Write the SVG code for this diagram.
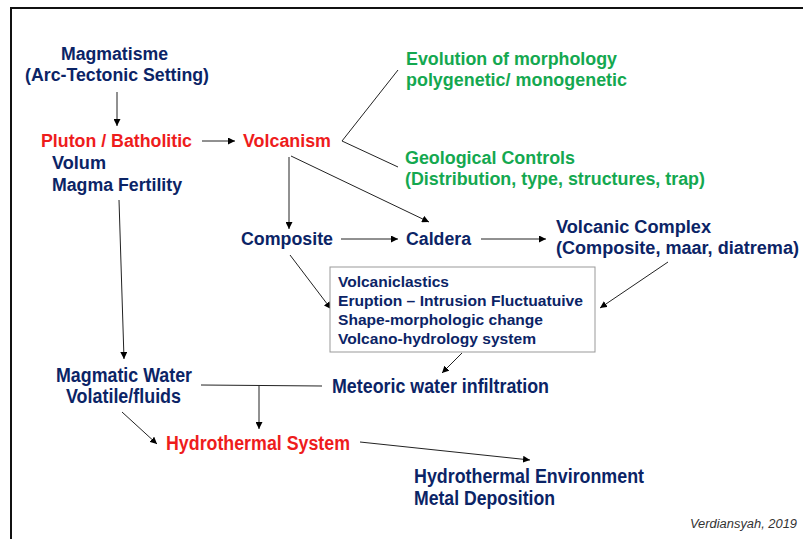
<svg xmlns="http://www.w3.org/2000/svg" width="803" height="539" viewBox="0 0 803 539">
<defs>
<marker id="ah" viewBox="0 0 10 10" refX="10" refY="5" markerWidth="7" markerHeight="7" markerUnits="userSpaceOnUse" orient="auto">
<path d="M0,0 L10,5 L0,10 z" fill="#000"/>
</marker>
<style>
text{font-family:"Liberation Sans",Arial,sans-serif;font-weight:bold;}
.n{fill:#0b2466;font-size:18px;}
.r{fill:#ee1c1c;font-size:18px;}
.g{fill:#14a850;font-size:18px;}
.b{fill:#0b2466;font-size:15.5px;}
.w{fill:#0b2466;font-size:20px;}
.wr{fill:#ee1c1c;font-size:20px;}
.c line,.c polyline{stroke:#222;stroke-width:1;fill:none;}
.a{marker-end:url(#ah);}
</style>
</defs>
<rect x="0" y="0" width="803" height="539" fill="#fff"/>
<path d="M11,545 L11,8 L810,8" fill="none" stroke="#111" stroke-width="2"/>

<g class="c" id="connectors">
<line class="a" x1="117" y1="92" x2="117" y2="126"/>
<line class="a" x1="202" y1="141" x2="235" y2="141"/>
<polyline points="398,70 342,141 398,167"/>
<line class="a" x1="289" y1="157" x2="289" y2="229"/>
<line class="a" x1="291" y1="156" x2="429" y2="222"/>
<line class="a" x1="341" y1="239" x2="398" y2="239"/>
<line class="a" x1="481" y1="239" x2="546" y2="239"/>
<line class="a" x1="290" y1="255" x2="331" y2="309"/>
<line class="a" x1="668" y1="262" x2="600" y2="308"/>
<line class="a" x1="462" y1="353" x2="442" y2="373"/>
<line class="a" x1="119" y1="200" x2="124" y2="359"/>
<line x1="201" y1="385" x2="322" y2="386"/>
<line class="a" x1="259" y1="386" x2="259" y2="429"/>
<line class="a" x1="122" y1="412" x2="157" y2="444"/>
<line class="a" x1="360" y1="442" x2="530" y2="460"/>
</g>

<g id="magmatisme">
<text class="n" x="61" y="60" textLength="107" lengthAdjust="spacingAndGlyphs">Magmatisme</text>
<text class="n" x="25" y="81" textLength="184" lengthAdjust="spacingAndGlyphs">(Arc-Tectonic Setting)</text>
</g>
<g id="pluton">
<text class="r" x="41" y="147" textLength="151" lengthAdjust="spacingAndGlyphs">Pluton / Batholitic</text>
<text class="n" x="52" y="169" textLength="54" lengthAdjust="spacingAndGlyphs">Volum</text>
<text class="n" x="52" y="191" textLength="130" lengthAdjust="spacingAndGlyphs">Magma Fertility</text>
</g>
<g id="volcanism">
<text class="r" x="243" y="147" textLength="88" lengthAdjust="spacingAndGlyphs">Volcanism</text>
</g>
<g id="evolution">
<text class="g" x="406" y="65" textLength="211" lengthAdjust="spacingAndGlyphs">Evolution of morphology</text>
<text class="g" x="406" y="86" textLength="221" lengthAdjust="spacingAndGlyphs">polygenetic/ monogenetic</text>
</g>
<g id="geological">
<text class="g" x="405" y="164" textLength="170" lengthAdjust="spacingAndGlyphs">Geological Controls</text>
<text class="g" x="405" y="185" textLength="300" lengthAdjust="spacingAndGlyphs">(Distribution, type, structures, trap)</text>
</g>
<g id="composite">
<text class="n" x="241" y="245" textLength="92" lengthAdjust="spacingAndGlyphs">Composite</text>
</g>
<g id="caldera">
<text class="n" x="406" y="245" textLength="65" lengthAdjust="spacingAndGlyphs">Caldera</text>
</g>
<g id="volcanic-complex">
<text class="n" x="556" y="233" textLength="155" lengthAdjust="spacingAndGlyphs">Volcanic Complex</text>
<text class="n" x="556" y="254" textLength="243" lengthAdjust="spacingAndGlyphs">(Composite, maar, diatrema)</text>
</g>
<g id="box">
<rect x="330" y="267" width="265" height="85" fill="#fff" stroke="#999" stroke-width="1"/>
<text class="b" x="338" y="287" textLength="111" lengthAdjust="spacingAndGlyphs">Volcaniclastics</text>
<text class="b" x="338" y="306" textLength="245" lengthAdjust="spacingAndGlyphs">Eruption – Intrusion Fluctuatuive</text>
<text class="b" x="338" y="325" textLength="205" lengthAdjust="spacingAndGlyphs">Shape-morphologic change</text>
<text class="b" x="338" y="344" textLength="198" lengthAdjust="spacingAndGlyphs">Volcano-hydrology system</text>
</g>
<g id="magmatic-water">
<text class="w" x="56" y="382" textLength="136" lengthAdjust="spacingAndGlyphs">Magmatic Water</text>
<text class="w" x="66" y="403" textLength="115" lengthAdjust="spacingAndGlyphs">Volatile/fluids</text>
</g>
<g id="meteoric">
<text class="w" x="332" y="393" textLength="217" lengthAdjust="spacingAndGlyphs">Meteoric water infiltration</text>
</g>
<g id="hydrothermal-system">
<text class="wr" x="166" y="450" textLength="184" lengthAdjust="spacingAndGlyphs">Hydrothermal System</text>
</g>
<g id="hydrothermal-env">
<text class="w" x="414" y="483" textLength="230" lengthAdjust="spacingAndGlyphs">Hydrothermal Environment</text>
<text class="w" x="414" y="505" textLength="141" lengthAdjust="spacingAndGlyphs">Metal Deposition</text>
</g>
<text x="797" y="528" text-anchor="end" textLength="107" lengthAdjust="spacingAndGlyphs" style="font-weight:normal;font-style:italic;font-size:12px;fill:#333;">Verdiansyah, 2019</text>
</svg>
